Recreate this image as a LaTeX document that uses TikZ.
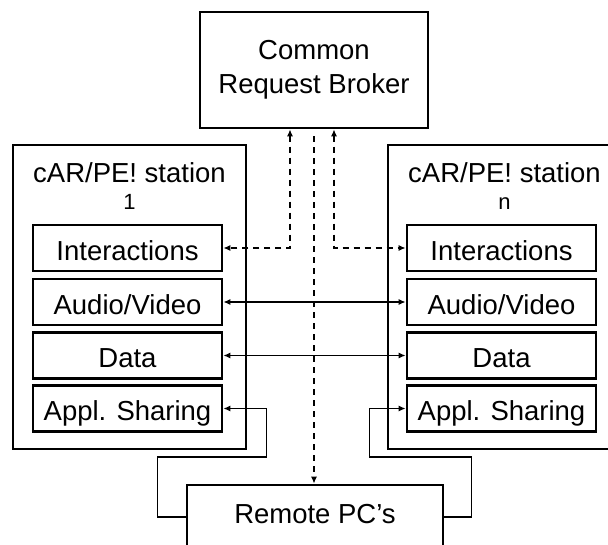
\documentclass[tikz,border=0pt]{standalone}
\usepackage{fontspec}
\setmainfont{Liberation Sans}
\usetikzlibrary{arrows.meta, positioning}

\begin{document}
\begin{tikzpicture}[
  x=1pt, y=-1pt,
  font=\fontsize{27.5}{34}\selectfont,
  station/.style={draw, line width=2.6pt, minimum width=233pt, minimum height=304pt, inner sep=0pt},
  module/.style={draw, line width=2.6pt, minimum width=189pt, minimum height=46pt, inner sep=0pt,
    text height=24pt, text depth=0pt},
  arrow/.style={line width=1.5pt, >={Latex[length=7pt,width=6pt]}},
  dasharrow/.style={arrow, dash pattern=on 6pt off 5pt}
]
\tikzstyle{bigbox}=[draw,line width=2.6pt,inner sep=0pt]
\path[use as bounding box, clip] (0,0) rectangle (608,544);

% Broker and remote PCs
\node [bigbox, minimum width=228pt, minimum height=116pt, align=center] (broker) at (314,70) {Common\\Request Broker};
\node [bigbox, minimum width=256pt, minimum height=64pt, text height=20pt, text depth=8pt] (remote) at (315,517) {Remote PC's};

% Station 1
\node [station] (st1) at (129.5,297) {};
\node [anchor=base] (st1name) at (129.5,182) {cAR/PE! station};
\node [anchor=base, font=\fontsize{22}{26}\selectfont] (st1num) at (129.5,209) {1};
\node [module] (int1) at (127.5,248) {Interactions};
\node [module] (av1) at (127.5,302) {Audio/Video};
\node [module] (dat1) at (127.5,355.5) {Data};
\node [module] (app1) at (127.5,408.5) {Appl. Sharing};

% Station n
\node [station] (st2) at (504.5,297) {};
\node [anchor=base] (st2name) at (504.5,182) {cAR/PE! station};
\node [anchor=base, font=\fontsize{22}{26}\selectfont] (st2num) at (504.5,209) {n};
\node [module] (int2) at (501.5,248) {Interactions};
\node [module] (av2) at (501.5,302) {Audio/Video};
\node [module] (dat2) at (501.5,355.5) {Data};
\node [module] (app2) at (501.5,408.5) {Appl. Sharing};

% Connections
\draw[dasharrow, <->] ([xshift=-24pt]broker.south) |- (int1.east);
\draw[dasharrow, <->] ([xshift=20pt]broker.south) |- (int2.west);
\draw[dasharrow, ->, shorten <=7pt] (broker.south) -- (broker.south |- remote.north);
\draw[arrow, <->] (av1.east) -- (av2.west);
\draw[arrow, <->] (dat1.east) -- (dat2.west);
\draw[arrow, ->] (remote.west) -- ++(-28,0) |- ++(109,-60) |- (app1.east);
\draw[arrow, ->] (remote.east) -- ++(27,0) |- ++(-102,-60) |- (app2.west);

\end{tikzpicture}
\end{document}
